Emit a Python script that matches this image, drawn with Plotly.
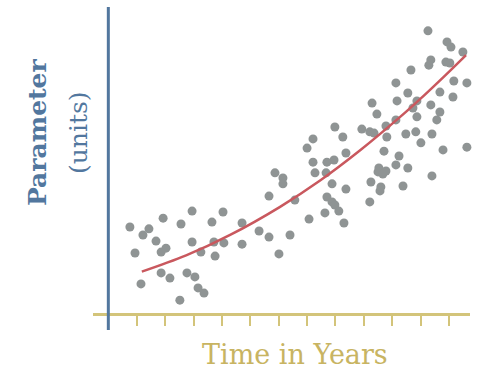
import plotly.graph_objects as go

# Observations (years, parameter units)
obs_years = [0.76, 1.43, 1.22, 1.93, 2.95, 4.04, 2.56, 3.65, 1.68, 0.94, 2.03, 1.86, 2.95, 3.26, 3.72, 4.07,
             3.76, 1.15, 1.86, 2.17, 2.77, 3.05, 3.16, 3.37, 2.52, 4.71, 4.71, 5.31, 5.66, 6.40, 6.01, 5.66,
             6.57, 7.98, 8.26, 7.21, 7.00, 8.37, 7.95, 7.70, 7.21, 7.28, 7.67, 5.87, 6.15, 6.15, 7.88, 8.37,
             7.70, 7.88, 7.98, 8.12, 7.63, 8.30, 7.07, 11.26, 11.93, 12.07, 12.49, 11.36, 11.29, 11.89, 12.03,
             10.66, 12.17, 12.63, 10.13, 10.55, 11.68, 12.14, 12.84, 9.29, 10.17, 10.87, 9.46, 11.36, 10.87,
             11.68, 11.57, 10.73, 10.13, 9.78, 8.93, 9.21, 9.36, 9.81, 10.48, 10.83, 11.40, 11.01, 11.79, 12.63,
             9.71, 10.24, 10.13, 10.55, 9.53, 9.50, 9.78, 9.67, 9.25, 9.60, 9.57, 10.38, 11.40, 9.21]
obs_values = [2.81, 2.75, 2.55, 3.10, 3.33, 3.30, 2.91, 2.97, 2.35, 1.96, 2.12, 1.99, 2.32, 1.99, 2.32, 2.29,
              1.86, 0.95, 1.31, 1.14, 1.31, 1.18, 0.82, 0.65, 0.42, 2.94, 2.25, 2.68, 2.48, 2.55, 1.93, 3.82,
              3.69, 6.08, 5.75, 5.69, 5.39, 5.23, 5.00, 4.93, 4.93, 4.58, 4.58, 4.58, 4.41, 4.22, 4.22, 4.05,
              3.79, 3.63, 3.53, 3.33, 3.27, 2.94, 3.07, 9.22, 8.86, 8.69, 8.53, 8.27, 8.10, 8.20, 8.17,
              7.94, 7.58, 7.52, 7.52, 7.19, 7.22, 7.06, 7.06, 6.86, 6.93, 6.93, 6.50, 6.80, 6.41,
              6.57, 6.31, 6.70, 6.31, 6.11, 6.01, 5.92, 5.88, 5.75, 5.85, 5.92, 5.85, 5.56, 5.33, 5.42,
              5.29, 5.13, 4.84, 4.74, 4.74, 4.61, 4.64, 4.54, 4.28, 4.12, 3.99, 4.15, 4.48, 3.63]

# Trend curve
trend_years = [1.18, 2.74, 4.29, 6.05, 7.46, 8.86, 10.27, 10.98, 11.86, 12.60]
trend_values = [1.35, 1.88, 2.55, 3.47, 4.33, 5.31, 6.40, 6.99, 7.76, 8.43]

tick_years = list(range(1, 13))

SERIF = "DejaVu Serif"
BLUE = "#52779e"
GOLD = "#d3c47a"
GOLD_TEXT = "#c8b462"

fig = go.Figure()
fig.add_trace(go.Scatter(
    x=obs_years, y=obs_values, mode="markers",
    marker=dict(size=9, color="#8f9494", line=dict(width=0)),
    cliponaxis=False, hoverinfo="skip"))
fig.add_trace(go.Scatter(
    x=trend_years, y=trend_values, mode="lines",
    line=dict(color="#c9585e", width=2.5, shape="spline"),
    cliponaxis=False, hoverinfo="skip"))

fig.update_layout(
    width=490, height=374,
    margin=dict(l=93, r=20, t=7, b=61),
    paper_bgcolor="white", plot_bgcolor="white",
    showlegend=False,
    xaxis=dict(range=[-0.54, 12.74], showgrid=False, zeroline=False,
               showline=True, linecolor=GOLD, linewidth=3,
               ticks="outside", tickvals=tick_years, ticklen=10, tickwidth=2,
               tickcolor=GOLD, showticklabels=False),
    yaxis=dict(range=[0, 10], showgrid=False, zeroline=False, showline=False,
               showticklabels=False, ticks=""),
    shapes=[dict(type="line", xref="x", yref="paper", x0=0, x1=0,
                 y0=-0.0556, y1=1.0, line=dict(color=BLUE, width=3))],
    annotations=[
        dict(text="<b>Parameter</b>", xref="paper", yref="paper", x=-0.1485, y=0.5915,
             showarrow=False, textangle=-90, xanchor="center", yanchor="middle",
             font=dict(family=SERIF, size=25, color=BLUE)),
        dict(text="(units)", xref="paper", yref="paper", x=-0.0398, y=0.5915,
             showarrow=False, textangle=-90, xanchor="center", yanchor="middle",
             font=dict(family=SERIF, size=25, color=BLUE)),
        dict(text="Time in Years", xref="paper", yref="paper", x=0.536, y=-0.137,
             showarrow=False, xanchor="center", yanchor="middle",
             font=dict(family=SERIF, size=27, color=GOLD_TEXT)),
    ],
)

fig.write_html("out.html", config={"displayModeBar": False},
               post_script="document.body.style.margin='0';")
